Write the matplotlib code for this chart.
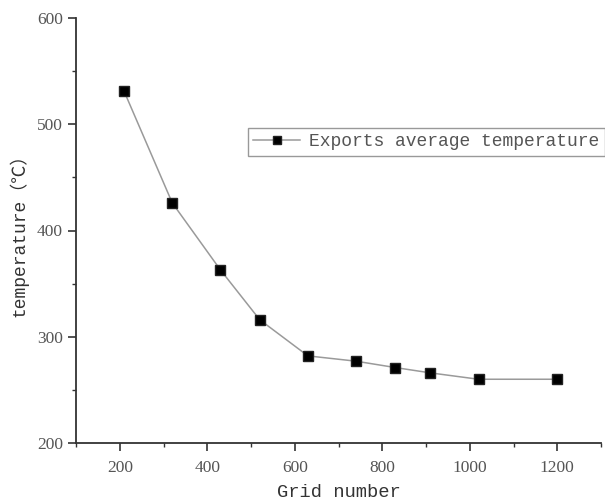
import matplotlib
matplotlib.use('Agg')
import matplotlib.pyplot as plt
import matplotlib.ticker as mtick

matplotlib.rcParams['text.color'] = '#333333'
matplotlib.rcParams['axes.labelcolor'] = '#333333'
matplotlib.rcParams['xtick.color'] = '#333333'
matplotlib.rcParams['ytick.color'] = '#333333'

# data
grid_number = [210, 320, 430, 520, 630, 740, 830, 910, 1020, 1200]
avg_temp = [531, 426, 363, 316, 282, 277, 271, 266, 260, 260]
series_name = 'Exports average temperature'
x_label = 'Grid number'
y_label = 'temperature\uff08\u2103\uff09'

fig = plt.figure(figsize=(6.05, 5.03), dpi=100)
ax = fig.add_axes([76/605, 60/503, 525/605, 425/503])

ax.plot(grid_number, avg_temp, color='#9a9a9a', linewidth=1.1,
        marker='s', markersize=7.2, markerfacecolor='black',
        markeredgecolor='#222222', label=series_name)

ax.set_xlim(100, 1300)
ax.set_ylim(200, 600)
ax.xaxis.set_major_locator(mtick.MultipleLocator(200))
ax.xaxis.set_minor_locator(mtick.MultipleLocator(100))
ax.yaxis.set_major_locator(mtick.MultipleLocator(100))
ax.yaxis.set_minor_locator(mtick.MultipleLocator(50))

ax.spines['top'].set_visible(False)
ax.spines['right'].set_visible(False)
for s in ['left', 'bottom']:
    ax.spines[s].set_color('#333333')
    ax.spines[s].set_linewidth(1.3)

ax.tick_params(which='major', direction='out', length=6, width=1.2,
               labelsize=12.5, labelcolor='#555555')
ax.tick_params(axis='x', which='major', pad=6)
ax.tick_params(which='minor', direction='out', length=3, width=1.0)
for lbl in ax.get_xticklabels() + ax.get_yticklabels():
    lbl.set_fontfamily('Liberation Serif')

ax.set_xlabel(x_label, fontsize=13.5, family=['Liberation Mono', 'DejaVu Sans'], labelpad=6)
ax.set_ylabel(y_label, fontsize=13, family=['Noto Sans CJK SC', 'DejaVu Sans'], labelpad=6)
ax.yaxis.label.set_fontfamily(['Liberation Mono', 'Noto Sans CJK SC'])

leg = ax.legend(loc='upper left', bbox_to_anchor=(248/605, 1 - 128/503),
                bbox_transform=fig.transFigure,
                prop={'family': 'Liberation Mono', 'size': 13},
                handlelength=2.6, handletextpad=0.5, borderpad=0.3,
                borderaxespad=0, fancybox=False, framealpha=1, markerscale=0.8)
leg.get_frame().set_edgecolor('#999999')
leg.get_frame().set_linewidth(1.0)
for t in leg.get_texts():
    t.set_color('#555555')

plt.savefig('out.png', dpi=100)
